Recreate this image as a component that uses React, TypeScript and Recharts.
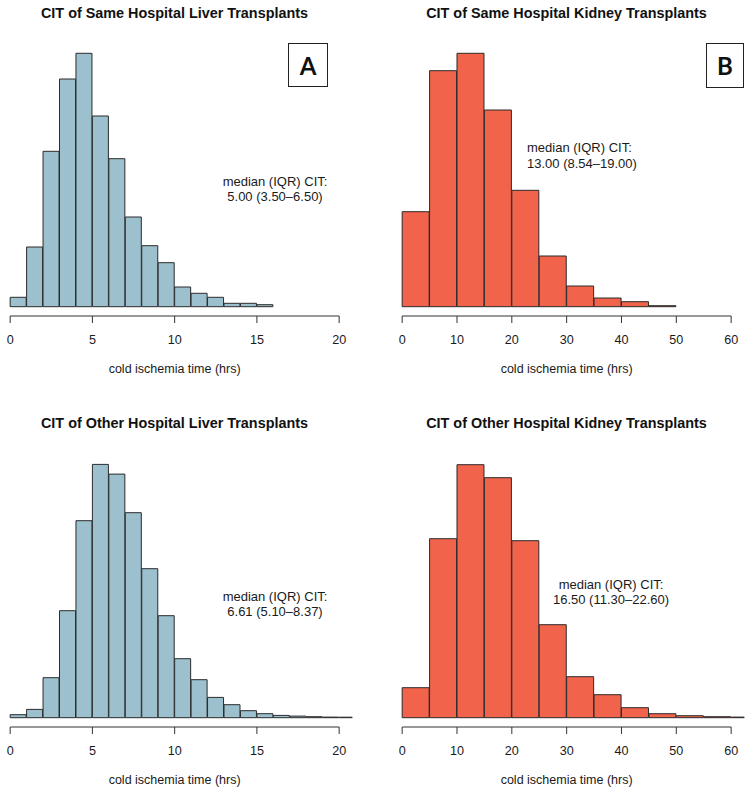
import { BarChart, Bar, XAxis, YAxis, ReferenceLine } from "recharts";

// bin heights (no y axis is shown, so arbitrary units)
const liverSameCounts = [9.4, 59.7, 155.4, 227.7, 253.4, 190.7, 148, 89.7, 61, 44, 19.7, 13.4, 9.4, 3.4, 3.4, 2];
const kidneySameCounts = [95, 236, 253.4, 196.7, 116.4, 50.7, 20.7, 8.7, 5, 1];
const liverOtherCounts = [3, 8.3, 40, 107, 197, 253.3, 243.6, 205, 149, 102, 59, 38, 20.3, 13, 7, 4, 2.3, 1.6, 1, 0.6, 0.5];
const kidneyOtherCounts = [30, 179, 253, 240, 177, 93, 41, 23, 10, 4, 2, 1, 0.6];

const liverBinWidth = 1;
const kidneyBinWidth = 5;
const liverTicks = [0, 5, 10, 15, 20];
const kidneyTicks = [0, 10, 20, 30, 40, 50, 60];

const BLUE = "#9CC0CD";
const RED = "#F1634A";

const CHART_W = 376;
const CHART_H = 400;
const PLOT_W = 355.3;
const M_LEFT = 10;
const M_TOP = 40;
const AXIS_H = 84;
const Y_DOMAIN: [number, number] = [-9.3, 266.7];

const toRows = (counts: number[], width: number) =>
  counts.map((c, i) => ({ mid: width * (i + 0.5), count: c }));

// R pads the x range by 4% on each side
const padDomain = (ticks: number[]): [number, number] => {
  const lo = ticks[0];
  const hi = ticks[ticks.length - 1];
  const pad = (hi - lo) * 0.04;
  return [lo - pad, hi + pad];
};

interface HistProps {
  counts: number[];
  binWidth: number;
  ticks: number[];
  color: string;
  left: number;
  top: number;
}

function Hist({ counts, binWidth, ticks, color, left, top }: HistProps) {
  const rows = toRows(counts, binWidth);
  return (
    <div style={{ position: "absolute", left, top }}>
      <BarChart
        width={CHART_W}
        height={CHART_H}
        data={rows}
        margin={{ top: M_TOP, left: M_LEFT, right: CHART_W - M_LEFT - PLOT_W, bottom: 0 }}
        barCategoryGap={0}
        barGap={0}
      >
        <XAxis
          type="number"
          dataKey="mid"
          domain={padDomain(ticks)}
          allowDataOverflow
          ticks={ticks}
          interval={0}
          axisLine={false}
          tickLine={{ stroke: "#333" }}
          tickSize={7}
          tickMargin={12}
          tick={{ fill: "#1a1a1a", fontSize: 12.6 }}
          height={AXIS_H}
          label={{
            value: "cold ischemia time (hrs)",
            position: "insideTop",
            offset: 48,
            fill: "#1a1a1a",
            fontSize: 12.5,
          }}
        />
        <YAxis hide domain={Y_DOMAIN} allowDataOverflow />
        <ReferenceLine
          segment={[
            { x: ticks[0], y: Y_DOMAIN[0] },
            { x: ticks[ticks.length - 1], y: Y_DOMAIN[0] },
          ]}
          stroke="#333"
          ifOverflow="visible"
        />
        <Bar dataKey="count" fill={color} stroke="#2b2b2b" strokeWidth={1} isAnimationActive={false} />
      </BarChart>
    </div>
  );
}

const titleStyle = (cx: number, top: number): React.CSSProperties => ({
  position: "absolute",
  left: cx - 180,
  width: 360,
  top,
  textAlign: "center",
  fontWeight: "bold",
  fontSize: 14.4,
  lineHeight: "17px",
  color: "#111",
});

const noteStyle = (x: number, top: number, align: "center" | "left"): React.CSSProperties => ({
  position: "absolute",
  left: align === "center" ? x - 80 : x,
  width: align === "center" ? 160 : 200,
  top,
  textAlign: align,
  fontSize: 13,
  lineHeight: "15.5px",
  color: "#1a1a1a",
  whiteSpace: "pre",
});

const badgeStyle = (left: number, width: number, height: number): React.CSSProperties => ({
  position: "absolute",
  left,
  top: 43,
  width,
  height,
  boxSizing: "border-box",
  border: "1px solid #222",
  display: "flex",
  alignItems: "center",
  justifyContent: "center",
  fontFamily: "Lato, 'Open Sans', sans-serif",
  fontWeight: "bold",
  fontSize: 24,
  color: "#111",
  background: "#fff",
});

export default function App() {
  return (
    <div
      style={{
        position: "absolute",
        left: 0,
        top: 0,
        width: 752,
        height: 794,
        overflow: "hidden",
        background: "#fff",
        fontFamily: "'Liberation Sans', Arial, Helvetica, sans-serif",
      }}
    >
      <Hist counts={liverSameCounts} binWidth={liverBinWidth} ticks={liverTicks} color={BLUE} left={-13.16} top={0} />
      <Hist counts={kidneySameCounts} binWidth={kidneyBinWidth} ticks={kidneyTicks} color={RED} left={378.84} top={0} />
      <Hist counts={liverOtherCounts} binWidth={liverBinWidth} ticks={liverTicks} color={BLUE} left={-13.16} top={411} />
      <Hist counts={kidneyOtherCounts} binWidth={kidneyBinWidth} ticks={kidneyTicks} color={RED} left={378.84} top={411} />

      <div style={titleStyle(174.5, 4.8)}>CIT of Same Hospital Liver Transplants</div>
      <div style={titleStyle(566.5, 4.8)}>CIT of Same Hospital Kidney Transplants</div>
      <div style={titleStyle(174.5, 415.3)}>CIT of Other Hospital Liver Transplants</div>
      <div style={titleStyle(566.5, 415.3)}>CIT of Other Hospital Kidney Transplants</div>

      <div style={noteStyle(275, 173.5, "center")}>{"median (IQR) CIT:\n5.00 (3.50\u20136.50)"}</div>
      <div style={noteStyle(527, 140, "left")}>{"median (IQR) CIT:\n13.00 (8.54\u201319.00)"}</div>
      <div style={noteStyle(275, 588.8, "center")}>{"median (IQR) CIT:\n6.61 (5.10\u20138.37)"}</div>
      <div style={noteStyle(611, 576.8, "center")}>{"median (IQR) CIT:\n16.50 (11.30\u201322.60)"}</div>

      <div style={badgeStyle(288, 40, 44)}>A</div>
      <div style={badgeStyle(706, 38, 45)}>B</div>
    </div>
  );
}
